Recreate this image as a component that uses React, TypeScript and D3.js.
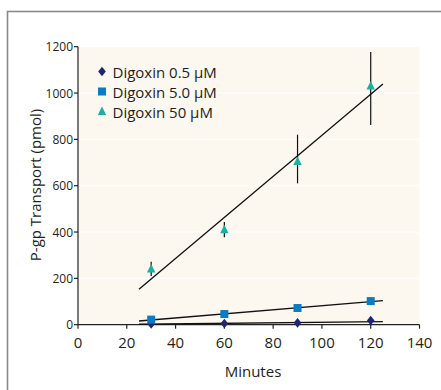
import React from "react";
import * as d3 from "d3";

const minutes = [30, 60, 90, 120];
const dig05 = [3, 5, 8, 18];
const dig50 = [22, 46, 72, 102];
const dig500 = [240, 410, 705, 1030];
const dig500Lo = [210, 377, 610, 862];
const dig500Hi = [272, 443, 820, 1177];
const fitX = [25, 125];
const fit05 = [2, 13];
const fit50 = [16, 104];
const fit500 = [153, 1039];
const xTicks = [0, 20, 40, 60, 80, 100, 120, 140];
const yTicks = [0, 200, 400, 600, 800, 1000, 1200];
const seriesNames = ["Digoxin 0.5 µM", "Digoxin 5.0 µM", "Digoxin 50 µM"];
const seriesColors = ["#1f2473", "#0b7bc2", "#1bb1a0"];

const FONT = "'Open Sans', 'Noto Sans', sans-serif";

export default function App() {
  const left = 78, right = 419.5, top = 46.7, bottom = 324.7;
  const x = d3.scaleLinear().domain([0, 140]).range([left, right]);
  const y = d3.scaleLinear().domain([0, 1200]).range([bottom, top]);
  const line = d3.line<number>().x((_, i) => x(fitX[i])).y((v) => y(v));

  const diamond = (cx: number, cy: number, key: string) => (
    <path key={key} d={`M${cx},${cy - 4.8}L${cx + 3.8},${cy}L${cx},${cy + 4.8}L${cx - 3.8},${cy}Z`} fill={seriesColors[0]} />
  );
  const square = (cx: number, cy: number, key: string) => (
    <rect key={key} x={cx - 4} y={cy - 4} width={8} height={8} fill={seriesColors[1]} />
  );
  const triangle = (cx: number, cy: number, key: string) => (
    <path key={key} d={`M${cx},${cy - 5}L${cx + 4.2},${cy + 3.5}L${cx - 4.2},${cy + 3.5}Z`} fill={seriesColors[2]} />
  );
  const markers = [diamond, square, triangle];

  return (
    <svg width={441} height={390} style={{ position: "absolute", left: 0, top: 0 }} fontFamily={FONT}>
      <rect x={0} y={0} width={441} height={390} fill="#ffffff" />
      <rect x={7.5} y={11.5} width={500} height={500} fill="none" stroke="#8a8a8a" strokeWidth={1.6} />
      <rect x={left} y={top} width={right - left} height={bottom - top} fill="#fcf8f0" />
      {yTicks.slice(1).map((t) => (
        <line key={"g" + t} x1={left} x2={right} y1={y(t)} y2={y(t)} stroke="#ffffff" strokeWidth={1} />
      ))}
      {/* axes */}
      <line x1={left} x2={left} y1={top} y2={bottom} stroke="#222" strokeWidth={1.2} />
      <line x1={left} x2={right} y1={bottom} y2={bottom} stroke="#222" strokeWidth={1.2} />
      {yTicks.map((t) => (
        <g key={"yt" + t}>
          <line x1={left - 4} x2={left} y1={y(t)} y2={y(t)} stroke="#222" strokeWidth={1.2} />
          <text x={left - 5} y={y(t)} textAnchor="end" dominantBaseline="central" fontSize={12} fill="#231f20">{t}</text>
        </g>
      ))}
      {xTicks.map((t) => (
        <g key={"xt" + t}>
          <line x1={x(t)} x2={x(t)} y1={bottom} y2={bottom + 4} stroke="#222" strokeWidth={1.2} />
          <text x={x(t)} y={347.5} textAnchor="middle" fontSize={15} fill="#231f20">{t}</text>
        </g>
      ))}
      <text x={253} y={377} textAnchor="middle" fontSize={15} fill="#231f20">Minutes</text>
      <text transform={`translate(41,185) rotate(-90)`} textAnchor="middle" fontSize={15} fill="#231f20">P-gp Transport (pmol)</text>
      {/* fit lines */}
      {[fit05, fit50, fit500].map((f, i) => (
        <path key={"f" + i} d={line(f) || ""} fill="none" stroke="#111" strokeWidth={1.3} />
      ))}
      {/* error bars */}
      {minutes.map((m, i) => (
        <line key={"e" + i} x1={x(m)} x2={x(m)} y1={y(dig500Lo[i])} y2={y(dig500Hi[i])} stroke="#111" strokeWidth={1.2} />
      ))}
      {/* markers */}
      {minutes.map((m, i) => diamond(x(m), y(dig05[i]), "d" + i))}
      {minutes.map((m, i) => square(x(m), y(dig50[i]), "s" + i))}
      {minutes.map((m, i) => triangle(x(m), y(dig500[i]), "t" + i))}
      {/* legend */}
      {seriesNames.map((n, i) => (
        <g key={"l" + i}>
          {markers[i](102, 71.5 + i * 20, "lm" + i)}
          <text x={112.5} y={71.5 + i * 20} dominantBaseline="central" fontSize={15} fill="#231f20">{n}</text>
        </g>
      ))}
    </svg>
  );
}
